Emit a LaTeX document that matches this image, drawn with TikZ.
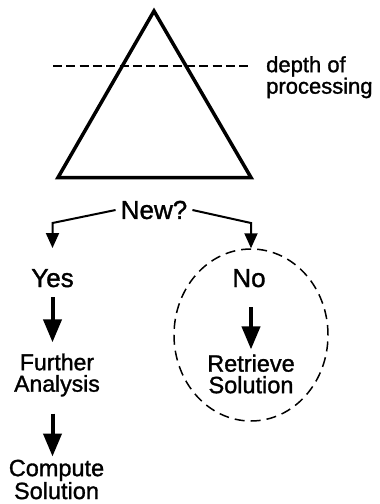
\documentclass[tikz,border=0pt]{standalone}
\usepackage{fontspec}
\setmainfont{Liberation Sans}[FakeBold=1.3]
\usetikzlibrary{arrows.meta,shapes.geometric}
\begin{document}
\begin{tikzpicture}[x=1pt,y=-1pt,
  label/.style={inner sep=0pt, align=center},
  bigfont/.style={font=\fontsize{26}{26}\selectfont},
  midfont/.style={font=\fontsize{23.5}{21.5}\selectfont},
  thinarrow/.style={line width=2pt, -{Triangle[length=15pt,width=13pt]}},
  bigarrow/.style={line width=4pt, -{Triangle[length=23pt,width=18pt]}},
  depthline/.style={line width=1.3pt, dash pattern=on 9pt off 4.3pt},
  ring/.style={draw, ellipse, line width=1.5pt, dash pattern=on 10pt off 6pt,
    minimum width=154pt, minimum height=172pt, inner sep=0pt}]
\useasboundingbox (0,0) rectangle (380,504);

% processing triangle with the depth marker
\draw[line width=3.5pt, line join=miter] (154,11) -- (251,177.5) -- (58,177.5) -- cycle;
\coordinate (dl) at (53,66);
\coordinate (dr) at (252,66);
\draw[depthline] (dl) -- (dr);
\node[label, anchor=north west, align=left, font=\fontsize{22}{15.5}\selectfont]
  (depth) at (266,56) {depth of\\processing};

% decision
\node[label, bigfont, inner xsep=5pt] (new) at (154,210) {New?};
\node[label, bigfont, anchor=base] (yes) at (52.5,287) {Yes};
\node[label, bigfont, anchor=base] (no) at (249,287) {No};
\coordinate (lk) at (52.5,223);
\coordinate (lt) at (52.5,248);
\coordinate (rk) at (251,223);
\draw[thinarrow, line join=miter] (new.west) -- (lk) -- (lt);

% retrieval branch
\node[ring] (noring) at (251,335) {};
\draw[thinarrow, line join=miter] (new.east) -- (rk) -- (noring.north);
\node[label, midfont] (retrieve) at (251,374) {Retrieve\\Solution};
\draw[bigarrow, shorten <=20pt, shorten >=5pt]
  (no.south -| noring.center) -- (retrieve.north -| noring.center);

% analysis branch
\node[label, font=\fontsize{23}{21.5}\selectfont] (further) at (57,375) {Further\\Analysis};
\node[label, midfont] (compute) at (56.5,479.5) {Compute\\Solution};
\draw[bigarrow, shorten <=10pt, shorten >=11pt]
  (yes.south) -- (yes.south |- further.north);
\draw[bigarrow, shorten <=17pt, shorten >=3pt]
  (further.south -| yes.south) -- (compute.north -| yes.south);
\end{tikzpicture}
\end{document}
